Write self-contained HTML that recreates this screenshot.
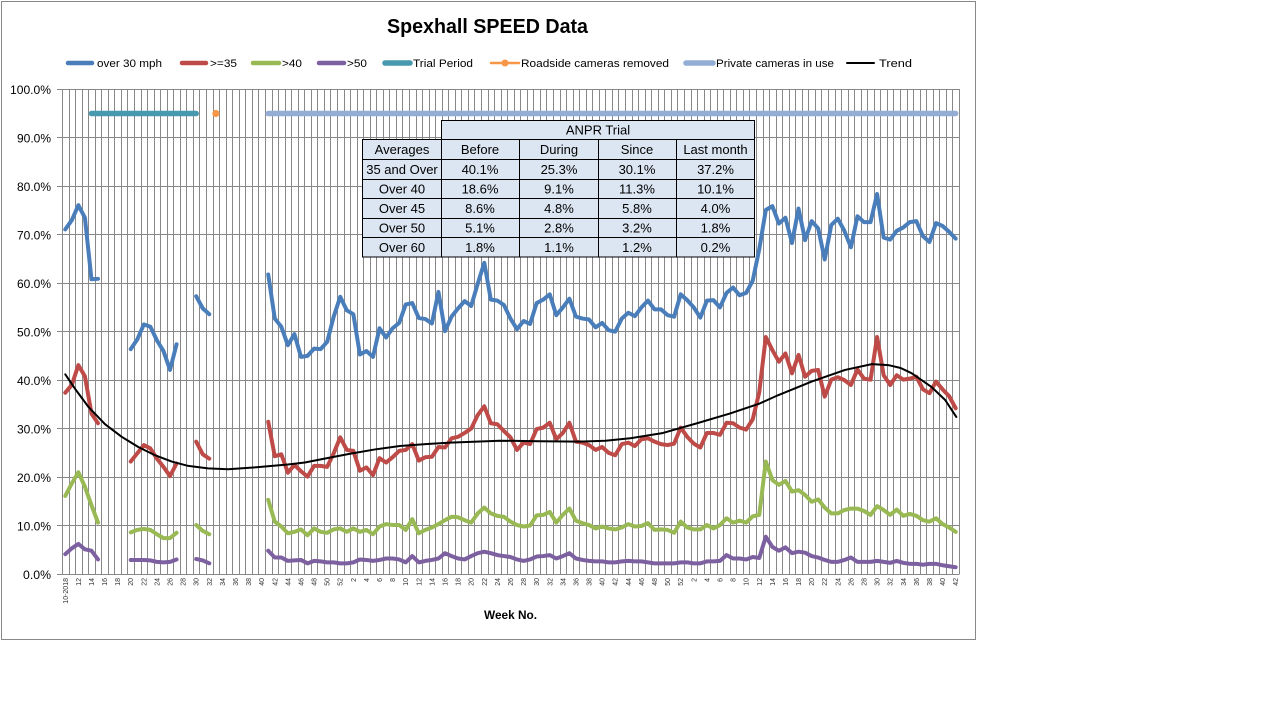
<!DOCTYPE html>
<html>
<head>
<meta charset="utf-8">
<style>
html,body{margin:0;padding:0;background:#fff;width:1280px;height:720px;overflow:hidden}
svg{display:block;font-family:"Liberation Sans",Arial,sans-serif}
</style>
</head>
<body>
<svg width="1280" height="720" viewBox="0 0 1280 720" xmlns="http://www.w3.org/2000/svg">
<rect x="0" y="0" width="1280" height="720" fill="#fff"/>
<rect x="1.5" y="1.5" width="974" height="638" fill="#fff" stroke="#888" stroke-width="1"/>

<!-- Title -->
<text x="387" y="33" font-size="20" font-weight="bold" fill="#000" textLength="201" lengthAdjust="spacingAndGlyphs">Spexhall SPEED Data</text>

<!-- Legend -->
<g stroke-linecap="round" fill="none">
<line x1="68" y1="63" x2="92" y2="63" stroke="#4A7EBB" stroke-width="4.5"/>
<line x1="182" y1="63" x2="206" y2="63" stroke="#BE4B48" stroke-width="4.5"/>
<line x1="253" y1="63" x2="279" y2="63" stroke="#98B954" stroke-width="4.5"/>
<line x1="319" y1="63" x2="344" y2="63" stroke="#7D60A0" stroke-width="4.5"/>
<line x1="385" y1="63" x2="410" y2="63" stroke="#4699AE" stroke-width="5.5"/>
<line x1="491" y1="63" x2="519" y2="63" stroke="#F79646" stroke-width="2.5"/>
<line x1="686" y1="63" x2="713" y2="63" stroke="#93ADD5" stroke-width="5.5"/>
<line x1="847" y1="63" x2="874" y2="63" stroke="#000" stroke-width="2"/>
</g>
<circle cx="505" cy="63" r="3.5" fill="#F79646"/>
<g font-size="11" fill="#000">
<text x="97" y="67" textLength="65" lengthAdjust="spacingAndGlyphs">over 30 mph</text>
<text x="210" y="67" textLength="27" lengthAdjust="spacingAndGlyphs">&gt;=35</text>
<text x="282" y="67" textLength="20" lengthAdjust="spacingAndGlyphs">&gt;40</text>
<text x="347" y="67" textLength="20" lengthAdjust="spacingAndGlyphs">&gt;50</text>
<text x="413" y="67" textLength="60" lengthAdjust="spacingAndGlyphs">Trial Period</text>
<text x="521" y="67" textLength="148" lengthAdjust="spacingAndGlyphs">Roadside cameras removed</text>
<text x="716" y="67" textLength="118" lengthAdjust="spacingAndGlyphs">Private cameras in use</text>
<text x="879" y="67" textLength="33" lengthAdjust="spacingAndGlyphs">Trend</text>
</g>

<!-- Gridlines -->
<g stroke="#888" stroke-width="1" fill="none">
<path d="M57 89.5H959M57 137.5H959M57 186.5H959M57 234.5H959M57 283.5H959M57 331.5H959M57 380.5H959M57 428.5H959M57 477.5H959M57 525.5H959M57 574.5H959.5"/>
<path d="M62.5 89v486M69.5 89v485M75.5 89v485M82.5 89v485M88.5 89v485M95.5 89v485M101.5 89v485M108.5 89v485M114.5 89v485M121.5 89v485M127.5 89v485M134.5 89v485M141.5 89v485M147.5 89v485M154.5 89v485M160.5 89v485M167.5 89v485M173.5 89v485M180.5 89v485M186.5 89v485M193.5 89v485M199.5 89v485M206.5 89v485M213.5 89v485M219.5 89v485M226.5 89v485M232.5 89v485M239.5 89v485M245.5 89v485M252.5 89v485M258.5 89v485M265.5 89v485M272.5 89v485M278.5 89v485M285.5 89v485M291.5 89v485M298.5 89v485M304.5 89v485M311.5 89v485M317.5 89v485M324.5 89v485M330.5 89v485M337.5 89v485M344.5 89v485M350.5 89v485M357.5 89v485M363.5 89v485M370.5 89v485M376.5 89v485M383.5 89v485M389.5 89v485M396.5 89v485M402.5 89v485M409.5 89v485M416.5 89v485M422.5 89v485M429.5 89v485M435.5 89v485M442.5 89v485M448.5 89v485M455.5 89v485M461.5 89v485M468.5 89v485M474.5 89v485M481.5 89v485M488.5 89v485M494.5 89v485M501.5 89v485M507.5 89v485M514.5 89v485M520.5 89v485M527.5 89v485M533.5 89v485M540.5 89v485M546.5 89v485M553.5 89v485M560.5 89v485M566.5 89v485M573.5 89v485M579.5 89v485M586.5 89v485M592.5 89v485M599.5 89v485M605.5 89v485M612.5 89v485M618.5 89v485M625.5 89v485M632.5 89v485M638.5 89v485M645.5 89v485M651.5 89v485M658.5 89v485M664.5 89v485M671.5 89v485M677.5 89v485M684.5 89v485M691.5 89v485M697.5 89v485M704.5 89v485M710.5 89v485M717.5 89v485M723.5 89v485M730.5 89v485M736.5 89v485M743.5 89v485M749.5 89v485M756.5 89v485M763.5 89v485M769.5 89v485M776.5 89v485M782.5 89v485M789.5 89v485M795.5 89v485M802.5 89v485M808.5 89v485M815.5 89v485M821.5 89v485M828.5 89v485M835.5 89v485M841.5 89v485M848.5 89v485M854.5 89v485M861.5 89v485M867.5 89v485M874.5 89v485M880.5 89v485M887.5 89v485M893.5 89v485M900.5 89v485M907.5 89v485M913.5 89v485M920.5 89v485M926.5 89v485M933.5 89v485M939.5 89v485M946.5 89v485M952.5 89v485M959.5 89v485"/>
</g>

<!-- Y axis labels -->
<g font-size="11.5" fill="#000" text-anchor="end">
<text x="51" y="94" textLength="41" lengthAdjust="spacingAndGlyphs">100.0%</text>
<text x="51" y="142.5" textLength="34" lengthAdjust="spacingAndGlyphs">90.0%</text>
<text x="51" y="191" textLength="34" lengthAdjust="spacingAndGlyphs">80.0%</text>
<text x="51" y="239.5" textLength="34" lengthAdjust="spacingAndGlyphs">70.0%</text>
<text x="51" y="288" textLength="34" lengthAdjust="spacingAndGlyphs">60.0%</text>
<text x="51" y="336.5" textLength="34" lengthAdjust="spacingAndGlyphs">50.0%</text>
<text x="51" y="385" textLength="34" lengthAdjust="spacingAndGlyphs">40.0%</text>
<text x="51" y="433.5" textLength="34" lengthAdjust="spacingAndGlyphs">30.0%</text>
<text x="51" y="482" textLength="34" lengthAdjust="spacingAndGlyphs">20.0%</text>
<text x="51" y="530.5" textLength="34" lengthAdjust="spacingAndGlyphs">10.0%</text>
<text x="51" y="579" textLength="28" lengthAdjust="spacingAndGlyphs">0.0%</text>
</g>

<!-- X axis labels -->
<g transform="rotate(-90)" font-size="7" fill="#333" text-anchor="end">
<text x="-578" y="67.8">10-2018</text>
<text x="-578" y="80.9">12</text>
<text x="-578" y="94">14</text>
<text x="-578" y="107">16</text>
<text x="-578" y="120.1">18</text>
<text x="-578" y="133.2">20</text>
<text x="-578" y="146.3">22</text>
<text x="-578" y="159.4">24</text>
<text x="-578" y="172.5">26</text>
<text x="-578" y="185.6">28</text>
<text x="-578" y="198.7">30</text>
<text x="-578" y="211.8">32</text>
<text x="-578" y="224.9">34</text>
<text x="-578" y="238">36</text>
<text x="-578" y="251.1">38</text>
<text x="-578" y="264.2">40</text>
<text x="-578" y="277.3">42</text>
<text x="-578" y="290.4">44</text>
<text x="-578" y="303.5">46</text>
<text x="-578" y="316.6">48</text>
<text x="-578" y="329.7">50</text>
<text x="-578" y="342.7">52</text>
<text x="-578" y="355.8">2</text>
<text x="-578" y="368.9">4</text>
<text x="-578" y="382">6</text>
<text x="-578" y="395.1">8</text>
<text x="-578" y="408.2">10</text>
<text x="-578" y="421.3">12</text>
<text x="-578" y="434.4">14</text>
<text x="-578" y="447.5">16</text>
<text x="-578" y="460.6">18</text>
<text x="-578" y="473.7">20</text>
<text x="-578" y="486.8">22</text>
<text x="-578" y="499.9">24</text>
<text x="-578" y="513">26</text>
<text x="-578" y="526.1">28</text>
<text x="-578" y="539.2">30</text>
<text x="-578" y="552.3">32</text>
<text x="-578" y="565.3">34</text>
<text x="-578" y="578.4">36</text>
<text x="-578" y="591.5">38</text>
<text x="-578" y="604.6">40</text>
<text x="-578" y="617.7">42</text>
<text x="-578" y="630.8">44</text>
<text x="-578" y="643.9">46</text>
<text x="-578" y="657">48</text>
<text x="-578" y="670.1">50</text>
<text x="-578" y="683.2">52</text>
<text x="-578" y="696.3">2</text>
<text x="-578" y="709.4">4</text>
<text x="-578" y="722.5">6</text>
<text x="-578" y="735.6">8</text>
<text x="-578" y="748.7">10</text>
<text x="-578" y="761.8">12</text>
<text x="-578" y="774.8">14</text>
<text x="-578" y="787.9">16</text>
<text x="-578" y="801">18</text>
<text x="-578" y="814.1">20</text>
<text x="-578" y="827.2">22</text>
<text x="-578" y="840.3">24</text>
<text x="-578" y="853.4">26</text>
<text x="-578" y="866.5">28</text>
<text x="-578" y="879.6">30</text>
<text x="-578" y="892.7">32</text>
<text x="-578" y="905.8">34</text>
<text x="-578" y="918.9">36</text>
<text x="-578" y="932">38</text>
<text x="-578" y="945.1">40</text>
<text x="-578" y="958.2">42</text>
</g>

<!-- Axis title -->
<text x="484" y="619" font-size="12" font-weight="bold" fill="#000" textLength="53" lengthAdjust="spacingAndGlyphs">Week No.</text>

<!-- Series (data coordinates: x = week index, y = percent) -->
<g transform="matrix(6.547 0 0 -4.847 65.27 574)" fill="none" stroke-linejoin="round" stroke-linecap="round">
<path vector-effect="non-scaling-stroke" stroke="#4699AE" stroke-width="5.5" d="M4 95 20 95"/>
<path vector-effect="non-scaling-stroke" stroke="#93ADD5" stroke-width="5.5" d="M31 95 136 95"/>
<path vector-effect="non-scaling-stroke" stroke="#4A7EBB" stroke-width="4" d="M0 71.1 1 73 2 76.1 3 73.5 4 60.8 5 60.9M10 46.4 11 48.4 12 51.5 13 51 14 48.2 15 46 16 42.1 17 47.4M20 57.3 21 54.8 22 53.6M31 61.8 32 52.7 33 51 34 47.2 35 49.5 36 44.8 37 45 38 46.5 39 46.4 40 47.9 41 53.1 42 57.2 43 54.4 44 53.6 45 45.3 46 46 47 44.8 48 50.7 49 48.8 50 50.7 51 51.8 52 55.6 53 55.9 54 52.8 55 52.6 56 51.7 57 58.2 58 50.1 59 53.1 60 54.8 61 56.3 62 55.3 63 59.9 64 64.2 65 56.6 66 56.4 67 55.5 68 52.7 69 50.5 70 52.2 71 51.6 72 55.9 73 56.6 74 57.7 75 53.4 76 55 77 56.8 78 53.1 79 52.7 80 52.5 81 50.9 82 51.8 83 50.3 84 50 85 52.7 86 53.9 87 53.2 88 55 89 56.4 90 54.6 91 54.6 92 53.4 93 53.1 94 57.7 95 56.5 96 55 97 52.9 98 56.4 99 56.5 100 55 101 58 102 59.1 103 57.5 104 58 105 60.5 106 67 107 75.1 108 75.9 109 72.3 110 73.5 111 68.3 112 75.4 113 68.9 114 72.8 115 71.3 116 64.9 117 72 118 73.3 119 70.8 120 67.4 121 73.8 122 72.6 123 72.6 124 78.4 125 69.4 126 69 127 70.8 128 71.5 129 72.6 130 72.8 131 69.7 132 68.5 133 72.4 134 71.8 135 70.6 136 69.2"/>
<path vector-effect="non-scaling-stroke" stroke="#BE4B48" stroke-width="4" d="M0 37.4 1 39 2 43.1 3 40.8 4 33.1 5 31.1M10 23.2 11 24.9 12 26.6 13 25.9 14 23.8 15 22.1 16 20.2 17 22.8M20 27.3 21 24.7 22 23.8M31 31.4 32 24.3 33 24.7 34 20.9 35 22.5 36 21.2 37 20.1 38 22.3 39 22.3 40 22.1 41 24.9 42 28.2 43 25.6 44 25.4 45 21.3 46 22 47 20.4 48 23.9 49 23 50 24.1 51 25.4 52 25.6 53 26.8 54 23.4 55 24.1 56 24.2 57 26.2 58 26.1 59 28 60 28.3 61 29.1 62 30 63 32.8 64 34.6 65 31.1 66 30.9 67 29.5 68 28.2 69 25.6 70 27.1 71 26.8 72 29.9 73 30.2 74 31.2 75 27.8 76 29.1 77 31.2 78 27.3 79 27.1 80 26.6 81 25.6 82 26.2 83 25 84 24.5 85 26.8 86 27.1 87 26.4 88 27.8 89 28 90 27.3 91 26.8 92 26.6 93 26.9 94 30.2 95 28.3 96 26.9 97 26.1 98 29.1 99 29.1 100 28.7 101 31.2 102 31.1 103 30.2 104 29.8 105 31.9 106 37.5 107 48.9 108 46.2 109 43.8 110 45.5 111 41.4 112 45.2 113 40.7 114 41.9 115 42.1 116 36.6 117 40.1 118 40.6 119 40 120 39 121 42.2 122 40.3 123 40.1 124 48.9 125 41 126 39 127 41 128 40.1 129 40.3 130 40.7 131 38.1 132 37.3 133 39.7 134 38.1 135 36.7 136 34.2"/>
<path vector-effect="non-scaling-stroke" stroke="#98B954" stroke-width="4" d="M0 16.1 1 18.7 2 21 3 18 4 14.2 5 10.6M10 8.6 11 9.1 12 9.3 13 9.1 14 8.2 15 7.4 16 7.4 17 8.5M20 10.1 21 8.9 22 8.2M31 15.3 32 10.8 33 9.8 34 8.4 35 8.7 36 9.2 37 8 38 9.4 39 8.7 40 8.5 41 9.2 42 9.4 43 8.7 44 9.4 45 8.7 46 9.1 47 8.2 48 9.8 49 10.3 50 10.1 51 10.1 52 9.1 53 11.3 54 8.4 55 9.1 56 9.6 57 10.3 58 11.1 59 11.8 60 11.7 61 11.1 62 10.6 63 12.5 64 13.7 65 12.5 66 12 67 11.8 68 10.8 69 10.1 70 9.8 71 10 72 12.1 73 12.2 74 12.8 75 10.6 76 12.2 77 13.5 78 11 79 10.5 80 10.1 81 9.4 82 9.8 83 9.4 84 9.2 85 9.6 86 10.3 87 9.8 88 9.9 89 10.5 90 9.1 91 9.2 92 9.1 93 8.5 94 10.8 95 9.6 96 9.2 97 9.2 98 10.1 99 9.4 100 10.1 101 11.5 102 10.6 103 11 104 10.6 105 11.9 106 12.2 107 23.2 108 19.4 109 18.4 110 19.2 111 17 112 17.3 113 16.3 114 14.9 115 15.4 116 13.7 117 12.5 118 12.5 119 13.2 120 13.5 121 13.5 122 13 123 12.2 124 14 125 13.2 126 12.2 127 13.3 128 12 129 12.4 130 12 131 11.1 132 10.8 133 11.5 134 10.3 135 9.6 136 8.7"/>
<path vector-effect="non-scaling-stroke" stroke="#7D60A0" stroke-width="4" d="M0 4.1 1 5.3 2 6.2 3 5.1 4 4.8 5 3M10 2.9 11 2.9 12 2.9 13 2.8 14 2.5 15 2.4 16 2.5 17 3M20 3.1 21 2.8 22 2.2M31 4.8 32 3.4 33 3.4 34 2.7 35 2.8 36 2.9 37 2.2 38 2.7 39 2.6 40 2.4 41 2.4 42 2.2 43 2.2 44 2.4 45 3 46 2.9 47 2.7 48 2.9 49 3.2 50 3.2 51 3 52 2.4 53 3.7 54 2.4 55 2.7 56 2.9 57 3.2 58 4.3 59 3.7 60 3.2 61 3 62 3.7 63 4.3 64 4.6 65 4.3 66 3.9 67 3.7 68 3.5 69 3 70 2.7 71 3 72 3.6 73 3.7 74 3.9 75 3.2 76 3.7 77 4.3 78 3.2 79 2.9 80 2.7 81 2.6 82 2.6 83 2.4 84 2.4 85 2.6 86 2.7 87 2.6 88 2.6 89 2.4 90 2.2 91 2.2 92 2.2 93 2.2 94 2.4 95 2.4 96 2.2 97 2.2 98 2.6 99 2.6 100 2.7 101 3.9 102 3.2 103 3.2 104 3 105 3.5 106 3.3 107 7.7 108 5.6 109 4.8 110 5.5 111 4.3 112 4.6 113 4.4 114 3.7 115 3.4 116 2.9 117 2.5 118 2.5 119 2.9 120 3.4 121 2.5 122 2.5 123 2.5 124 2.7 125 2.5 126 2.3 127 2.7 128 2.3 129 2.1 130 2.1 131 1.9 132 2.1 133 2.1 134 1.8 135 1.6 136 1.4"/>
<path vector-effect="non-scaling-stroke" stroke="#000" stroke-width="2" d="M0 41.2 1.5 38.2 3.52 34.5 6.07 30.9 8.62 28.3 11.15 26.2 13.7 24.5 16.26 23.2 18.79 22.3 21.8 21.8 24.9 21.6 28.98 22 34 22.6 36.6 23 40 23.9 43.5 24.8 47.3 25.7 51.1 26.4 55 26.8 58.8 27.1 66.4 27.5 72.5 27.4 78.6 27.3 82.5 27.5 86.3 28 91.3 29.1 96.5 31.1 101.5 33.1 106.1 35.2 108.9 36.9 114 39.7 119.1 42.1 123.2 43.3 125.7 43.1 127.6 42.5 129.3 41.4 132.3 38.6 134.4 35.9 136.1 32.4"/>
</g>
<circle cx="215.9" cy="113.5" r="3.6" fill="#F79646"/>

<!-- Table -->
<g stroke="#000" stroke-width="1" fill="#DCE6F2">
<rect x="441.5" y="120.5" width="313" height="19"/>
<rect x="362.5" y="139.5" width="392" height="117.5"/>
</g>
<g stroke="#000" stroke-width="1" fill="none">
<path d="M362.5 159.5H754.5M362.5 179.5H754.5M362.5 198.5H754.5M362.5 218.5H754.5M362.5 237.5H754.5"/>
<path d="M441.5 139.5V257M519.5 139.5V257M598.5 139.5V257M676.5 139.5V257"/>
</g>
<g font-size="13" fill="#000" text-anchor="middle">
<text x="598" y="134.5">ANPR Trial</text>
<text x="402" y="154">Averages</text>
<text x="480" y="154">Before</text>
<text x="559" y="154">During</text>
<text x="637" y="154">Since</text>
<text x="715.5" y="154">Last month</text>
<text x="402" y="174">35 and Over</text>
<text x="480" y="174">40.1%</text>
<text x="559" y="174">25.3%</text>
<text x="637" y="174">30.1%</text>
<text x="715.5" y="174">37.2%</text>
<text x="402" y="193.5">Over 40</text>
<text x="480" y="193.5">18.6%</text>
<text x="559" y="193.5">9.1%</text>
<text x="637" y="193.5">11.3%</text>
<text x="715.5" y="193.5">10.1%</text>
<text x="402" y="213">Over 45</text>
<text x="480" y="213">8.6%</text>
<text x="559" y="213">4.8%</text>
<text x="637" y="213">5.8%</text>
<text x="715.5" y="213">4.0%</text>
<text x="402" y="232.5">Over 50</text>
<text x="480" y="232.5">5.1%</text>
<text x="559" y="232.5">2.8%</text>
<text x="637" y="232.5">3.2%</text>
<text x="715.5" y="232.5">1.8%</text>
<text x="402" y="252">Over 60</text>
<text x="480" y="252">1.8%</text>
<text x="559" y="252">1.1%</text>
<text x="637" y="252">1.2%</text>
<text x="715.5" y="252">0.2%</text>
</g>
</svg>
</body>
</html>
